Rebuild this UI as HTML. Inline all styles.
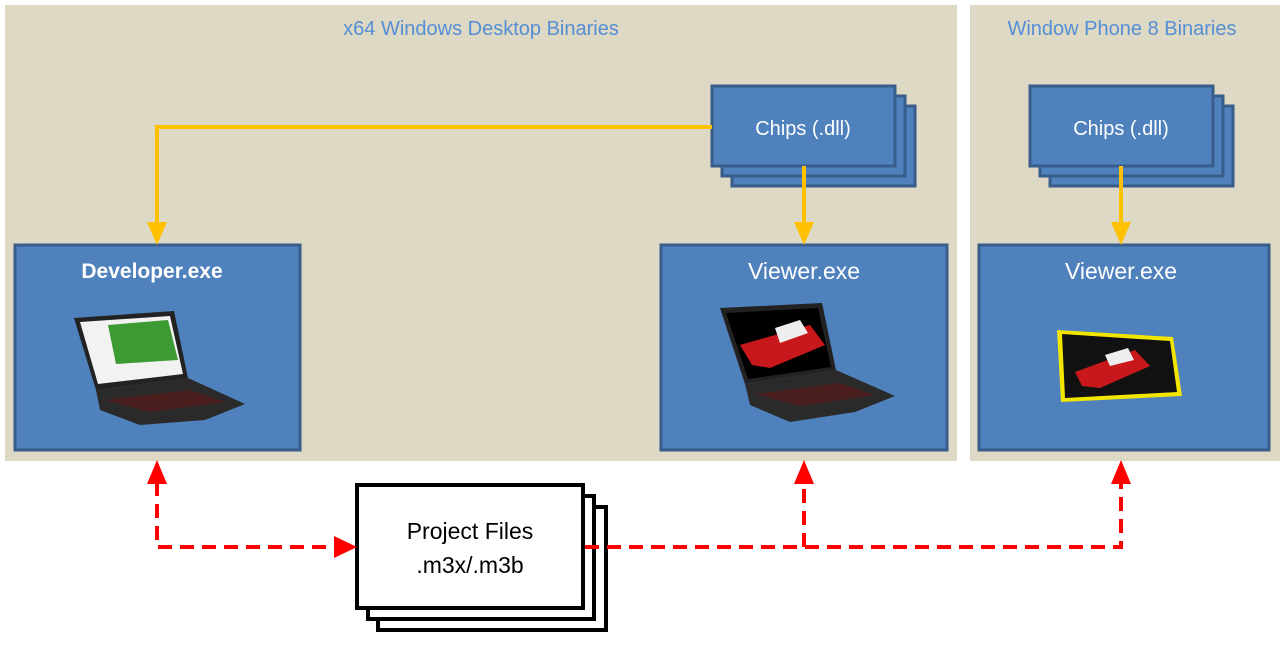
<!DOCTYPE html>
<html><head><meta charset="utf-8"><style>
body{margin:0;background:#fff;width:1284px;height:640px;overflow:hidden}
svg text{font-family:"Liberation Sans",sans-serif}
</style></head><body>
<svg width="1284" height="640" viewBox="0 0 1284 640" xmlns="http://www.w3.org/2000/svg">
<rect x="5" y="5" width="952" height="456" fill="#ddd9c4"/>
<rect x="970" y="5" width="310" height="456" fill="#ddd9c4"/>
<text x="481" y="35" text-anchor="middle" font-size="20" fill="#558ed5">x64 Windows Desktop Binaries</text>
<text x="1122" y="35" text-anchor="middle" font-size="20" fill="#558ed5">Window Phone 8 Binaries</text>

<g fill="#4f81bd" stroke="#385d8a" stroke-width="3">
<rect x="732" y="106" width="183" height="80"/><rect x="722" y="96" width="183" height="80"/><rect x="712" y="86" width="183" height="80"/>
<rect x="1050" y="106" width="183" height="80"/><rect x="1040" y="96" width="183" height="80"/><rect x="1030" y="86" width="183" height="80"/>
<rect x="15" y="245" width="285" height="205"/>
<rect x="661" y="245" width="286" height="205"/>
<rect x="979" y="245" width="290" height="205"/>
</g>
<g fill="#fff" font-size="20" text-anchor="middle">
<text x="803" y="135">Chips (.dll)</text>
<text x="1121" y="135">Chips (.dll)</text>
<text x="152" y="278" font-weight="bold" font-size="21">Developer.exe</text>
<text x="804" y="279" font-size="23">Viewer.exe</text>
<text x="1121" y="279" font-size="23">Viewer.exe</text>
</g>

<g stroke="#ffc000" stroke-width="4" fill="none">
<polyline points="712,127 157,127 157,225"/>
<line x1="804" y1="166" x2="804" y2="225"/>
<line x1="1121" y1="166" x2="1121" y2="225"/>
</g>
<g fill="#ffc000">
<path d="M147,222 L167,222 L157,245 z"/>
<path d="M794,222 L814,222 L804,245 z"/>
<path d="M1111,222 L1131,222 L1121,245 z"/>
</g>

<g>
<path d="M74,318 L174,311 L188,378 L96,390 z" fill="#222"/>
<path d="M80,322 L170,316 L183,374 L98,384 z" fill="#f2f2f2"/>
<path d="M108,325 L168,320 L178,360 L116,364 z" fill="#3c9a33"/>
<path d="M96,390 L188,378 L245,404 L205,420 L140,425 L100,410 z" fill="#2a2a2a"/>
<path d="M105,400 L190,390 L225,402 L150,412 z" fill="#5a1a1a" opacity="0.7"/>

<path d="M720,308 L822,303 L836,370 L745,384 z" fill="#222"/>
<path d="M726,313 L818,308 L831,367 L748,379 z" fill="#000"/>
<path d="M740,345 L810,325 L825,345 L770,368 L752,365 z" fill="#c8181c"/>
<path d="M775,328 L800,320 L808,333 L780,343 z" fill="#eee"/>
<path d="M745,384 L836,370 L895,396 L855,412 L790,422 L750,405 z" fill="#2a2a2a"/>
<path d="M755,394 L840,383 L875,395 L800,406 z" fill="#5a1a1a" opacity="0.7"/>

<path d="M1057,330 L1173,337 L1182,396 L1061,402 z" fill="#f2e600"/>
<path d="M1062,334 L1170,341 L1177,392 L1065,398 z" fill="#111"/>
<path d="M1075,372 L1135,350 L1150,366 L1100,388 L1082,386 z" fill="#c8181c"/>
<path d="M1105,355 L1128,348 L1134,360 L1110,366 z" fill="#eee"/>
</g>

<g fill="#fff" stroke="#000" stroke-width="4">
<rect x="378" y="507" width="228" height="123"/>
<rect x="368" y="496" width="226" height="123"/>
<rect x="357" y="485" width="226" height="123"/>
</g>
<text x="470" y="539" text-anchor="middle" font-size="23" fill="#000">Project Files</text>
<text x="470" y="573" text-anchor="middle" font-size="23" fill="#000">.m3x/.m3b</text>

<g stroke="#ff0000" stroke-width="4" fill="none" stroke-dasharray="14,8">
<polyline points="157,482 157,547 335,547"/>
<polyline points="585,547 1121,547 1121,482"/>
<line x1="804" y1="547" x2="804" y2="482"/>
</g>
<g fill="#ff0000">
<path d="M147,484 L167,484 L157,460 z"/>
<path d="M794,484 L814,484 L804,460 z"/>
<path d="M1111,484 L1131,484 L1121,460 z"/>
<path d="M334,536 L334,558 L357,547 z"/>
</g>
</svg>
</body></html>
